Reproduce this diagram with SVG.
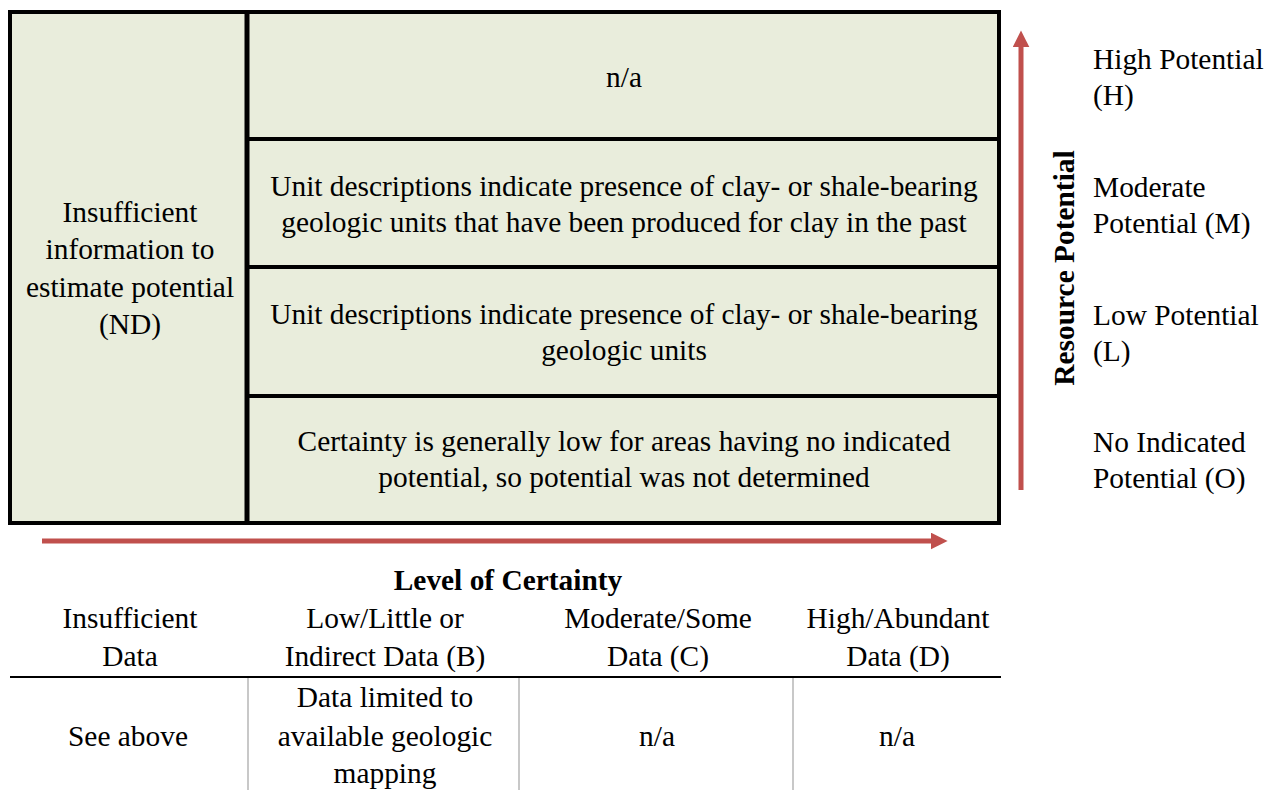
<svg xmlns="http://www.w3.org/2000/svg" width="1268" height="790" viewBox="0 0 1268 790">
<style>
text{font-family:'Liberation Serif','Times New Roman',serif;font-size:29.4px;fill:#000}
.c{text-anchor:middle}
.b{font-weight:bold}
.cell{fill:#e9eddc;stroke:#000;stroke-width:4}
.arr{stroke:#c0504d;stroke-width:5;fill:none}
.g{stroke:#c8c8c8;stroke-width:2}
</style>
<defs>
<marker id="ah" viewBox="0 0 10 10" refX="2" refY="5" markerWidth="3.4" markerHeight="3.4" orient="auto" markerUnits="strokeWidth">
<path d="M0,0 L10,5 L0,10 z" fill="#c0504d"/>
</marker>
</defs>
<g id="matrix">
<rect class="cell" x="10" y="12" width="989" height="511"/>
<line x1="247" y1="12" x2="247" y2="523" stroke="#000" stroke-width="5"/>
<line x1="247" y1="139" x2="999" y2="139" stroke="#000" stroke-width="4"/>
<line x1="247" y1="267" x2="999" y2="267" stroke="#000" stroke-width="4"/>
<line x1="247" y1="396" x2="999" y2="396" stroke="#000" stroke-width="4"/>
</g>
<g id="nd">
<text class="c" x="130" y="222">Insufficient</text>
<text class="c" x="130" y="259">information to</text>
<text class="c" x="130" y="297">estimate potential</text>
<text class="c" x="130" y="334">(ND)</text>
</g>
<g id="row-h"><text class="c" x="624" y="87">n/a</text></g>
<g id="row-m">
<text class="c" x="624" y="196">Unit descriptions indicate presence of clay- or shale-bearing</text>
<text class="c" x="624" y="232">geologic units that have been produced for clay in the past</text>
</g>
<g id="row-l">
<text class="c" x="624" y="324">Unit descriptions indicate presence of clay- or shale-bearing</text>
<text class="c" x="624" y="360">geologic units</text>
</g>
<g id="row-o">
<text class="c" x="624" y="451">Certainty is generally low for areas having no indicated</text>
<text class="c" x="624" y="487">potential, so potential was not determined</text>
</g>
<g id="connectors">
<line class="arr" x1="1021" y1="490" x2="1021" y2="44" marker-end="url(#ah)"/>
<line class="arr" x1="42" y1="541" x2="934" y2="541" marker-end="url(#ah)"/>
</g>
<g id="axis-y">
<text class="c b" transform="translate(1074,268) rotate(-90)">Resource Potential</text>
</g>
<g id="levels">
<text x="1093" y="69">High Potential</text>
<text x="1093" y="105">(H)</text>
<text x="1093" y="197">Moderate</text>
<text x="1093" y="233">Potential (M)</text>
<text x="1093" y="325">Low Potential</text>
<text x="1093" y="361">(L)</text>
<text x="1093" y="452">No Indicated</text>
<text x="1093" y="488">Potential (O)</text>
</g>
<g id="axis-x">
<text class="c b" x="508" y="590">Level of Certainty</text>
</g>
<g id="certainty-table">
<text class="c" x="130" y="628">Insufficient</text>
<text class="c" x="130" y="666">Data</text>
<text class="c" x="385" y="628">Low/Little or</text>
<text class="c" x="385" y="666">Indirect Data (B)</text>
<text class="c" x="658" y="628">Moderate/Some</text>
<text class="c" x="658" y="666">Data (C)</text>
<text class="c" x="898" y="628">High/Abundant</text>
<text class="c" x="898" y="666">Data (D)</text>
<line x1="10" y1="677" x2="1001" y2="677" stroke="#000" stroke-width="2"/>
<line class="g" x1="248" y1="678" x2="248" y2="790"/>
<line class="g" x1="519" y1="678" x2="519" y2="790"/>
<line class="g" x1="793" y1="678" x2="793" y2="790"/>
<text class="c" x="128" y="746">See above</text>
<text class="c" x="385" y="707">Data limited to</text>
<text class="c" x="385" y="746">available geologic</text>
<text class="c" x="385" y="783">mapping</text>
<text class="c" x="657" y="746">n/a</text>
<text class="c" x="897" y="746">n/a</text>
</g>
</svg>
